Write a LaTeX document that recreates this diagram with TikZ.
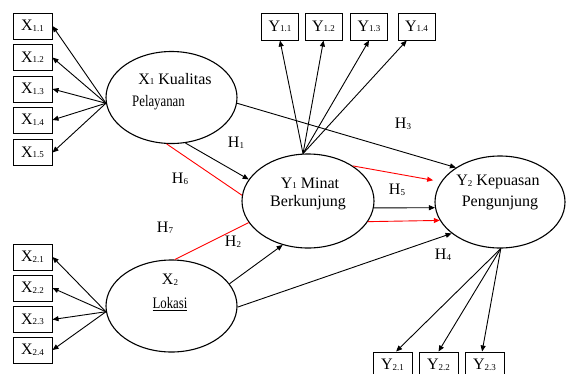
\documentclass[tikz,border=0pt]{standalone}
\usepackage{fontspec}
\setmainfont{Liberation Serif}
\usetikzlibrary{arrows.meta,shapes.geometric}
\newcommand\sbs[1]{{\fontsize{9}{10}\selectfont\raisebox{-0.5pt}{#1}}}
\begin{document}
\begin{tikzpicture}[x=1pt,y=-1pt,
  box/.style={draw, line width=1pt, minimum width=39pt, minimum height=26pt, inner sep=0pt, font=\fontsize{16}{18}\selectfont},
  lat/.style={draw, ellipse, line width=1.1pt, minimum width=131pt, minimum height=92pt, inner sep=0pt},
  lbl/.style={font=\fontsize{16}{18}\selectfont, inner sep=0pt},
  arr/.style={-{Triangle[length=6pt,width=5pt]}, line width=0.9pt},
  redarr/.style={arr, red},
  redln/.style={line width=0.9pt, red}]
\useasboundingbox (0,0) rectangle (566,373);
\clip (0,0) rectangle (566,373);
% indicator boxes
\node[box] (x11) at (32.5,26) {X\sbs{1.1}};
\node[box] (x12) at (32.5,57.5) {X\sbs{1.2}};
\node[box] (x13) at (32.5,89) {X\sbs{1.3}};
\node[box] (x14) at (32.5,120) {X\sbs{1.4}};
\node[box] (x15) at (32.5,152.5) {X\sbs{1.5}};
\node[box] (x21) at (32.5,257) {X\sbs{2.1}};
\node[box] (x22) at (32.5,288) {X\sbs{2.2}};
\node[box] (x23) at (32.5,319.5) {X\sbs{2.3}};
\node[box] (x24) at (32.5,350) {X\sbs{2.4}};
\node[box,minimum width=37pt,minimum height=27pt] (y11) at (280,26.5) {Y\sbs{1.1}};
\node[box,minimum width=37pt,minimum height=27pt] (y12) at (323.5,26.5) {Y\sbs{1.2}};
\node[box,minimum width=37pt,minimum height=27pt] (y13) at (369,26.5) {Y\sbs{1.3}};
\node[box,minimum width=37pt,minimum height=27pt] (y14) at (416.5,26.5) {Y\sbs{1.4}};
\node[box] (y21) at (392.5,365) {Y\sbs{2.1}};
\node[box] (y22) at (438.5,365) {Y\sbs{2.2}};
\node[box] (y23) at (484.5,365) {Y\sbs{2.3}};
% latent variables
\node[lat] (x1) at (171.5,97.5) {};
\node[lat] (x2) at (171.5,306) {};
\node[lat,minimum width=132pt,minimum height=94pt] (y1) at (308,201) {};
\node[lat,minimum width=130pt] (y2) at (500,202) {};
\node[lbl] (t1a) at (175,79) {X\sbs{1} Kualitas};
\node[lbl] (t1b) at (158.5,103) {\scalebox{0.8}[1]{Pelayanan}};
\node[lbl] (t2a) at (170,280) {X\sbs{2}};
\node[lbl] (t2b) at (170,304) {\underline{\scalebox{0.8}[1]{Lokasi}}};
\node[lbl] (t3a) at (310,183) {Y\sbs{1} Minat};
\node[lbl] (t3b) at (308,203) {Berkunjung};
\node[lbl] (t4a) at (498,182) {Y\sbs{2} Kepuasan};
\node[lbl] (t4b) at (500,203) {Pengunjung};
% indicator arrows
\foreach \b in {x11,x12,x13,x14,x15} \draw[arr] (x1.185) -- (\b.east);
\foreach \b in {x21,x22,x23,x24} \draw[arr] (x2.185) -- (\b.east);
\draw[arr] (y1.96) -- (y11.south);
\draw[arr] (y1.96) -- (y12.south);
\draw[arr] (y1.96) -- (y13.south);
\draw[arr] (y1.96) -- (y14.235);
\draw[arr] (y2.-89) -- (y21.75);
\draw[arr] (y2.-89) -- (y22.north);
\draw[arr] (y2.-89) -- (y23.100);
% structural paths
\draw[arr] (x1.-5) -- (y2.142);
\draw[arr] (x1.-73) -- (y1.160);
\draw[redln] (x1.-96) -- (y1.175);
\draw[redln] (x2.86) -- (y1.200);
\draw[arr] (x2.21) -- (y1.240);
\draw[arr] (x2.-1) -- (y2.213);
\draw[arr] (y1.-6) -- (y2.185);
\draw[redarr, shorten >=8pt] (y1.38) -- (y2.161);
\draw[redarr] (y1.-19) -- (y2.197);
% hypothesis labels
\node[lbl] (h1) at (236,143) {H\sbs{1}};
\node[lbl] (h6) at (180,179) {H\sbs{6}};
\node[lbl] (h3) at (403,124) {H\sbs{3}};
\node[lbl] (h5) at (397,190) {H\sbs{5}};
\node[lbl] (h7) at (165,228) {H\sbs{7}};
\node[lbl] (h2) at (233,242) {H\sbs{2}};
\node[lbl] (h4) at (443,255) {H\sbs{4}};
\end{tikzpicture}
\end{document}
